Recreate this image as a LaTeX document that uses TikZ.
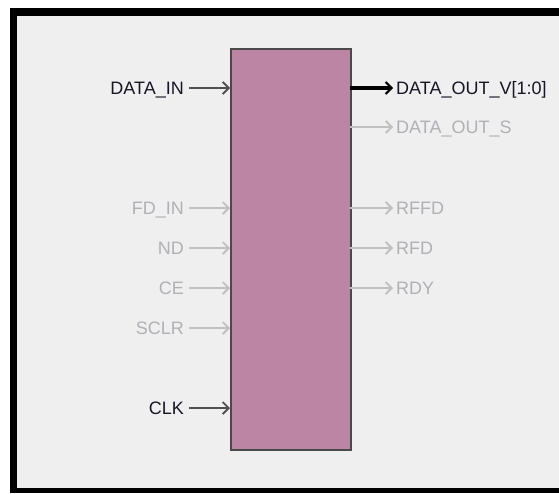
\documentclass[tikz,border=0pt]{standalone}
\usepackage{fontspec}
\setmainfont{Liberation Sans}
\usetikzlibrary{arrows.meta}
\definecolor{bgray}{HTML}{EFEFEF}
\definecolor{boxfill}{HTML}{BC85A3}
\definecolor{boxline}{HTML}{4A4A4A}
\definecolor{dimtext}{HTML}{B0B0B6}
\definecolor{dimline}{HTML}{C0C0C0}
\definecolor{darktext}{HTML}{161628}
\definecolor{darkline}{HTML}{505050}
\tikzset{
  inlbl/.style={anchor=base east, inner sep=0pt, font=\fontsize{18}{20}\selectfont},
  outlbl/.style={anchor=base west, inner sep=0pt, font=\fontsize{18}{20}\selectfont},
  dim/.style={text=dimtext},
  dark/.style={text=darktext},
  dimwire/.style={draw=dimline, line width=2.2pt, -{Straight Barb[length=6pt,width=12pt,line width=1.8pt]}},
  darkwire/.style={draw=darkline, line width=2.2pt, -{Straight Barb[length=6pt,width=12pt,line width=1.8pt]}},
  buswire/.style={draw=black, line width=3.2pt, -{Straight Barb[length=6pt,width=12pt,line width=2pt]}},
}
\begin{document}
\begin{tikzpicture}[x=1pt,y=-1pt]
\useasboundingbox (0,0) rectangle (559,493);
% frame
\fill[white] (0,0) rectangle (559,493);
\fill[black] (10,8) rectangle (559,493);
\fill[bgray] (17,16) rectangle (559,488);
% block
\node[draw=boxline, line width=2pt, fill=boxfill, minimum width=120pt, minimum height=401pt, inner sep=0pt, anchor=north west] (blk) at (230,48) {};
% pin coordinates
\coordinate (p-din) at (230,88);
\coordinate (p-fdin) at (230,208);
\coordinate (p-nd) at (230,248);
\coordinate (p-ce) at (230,288);
\coordinate (p-sclr) at (230,328);
\coordinate (p-clk) at (230,408);
\coordinate (q-dov) at (350,88);
\coordinate (q-dos) at (350,127);
\coordinate (q-rffd) at (350,208);
\coordinate (q-rfd) at (350,248);
\coordinate (q-rdy) at (350,288);
% input labels
\node[inlbl,dark] (din) at (184,94.5) {DATA\_IN};
\node[inlbl,dim] (fdin) at (184,214.5) {FD\_IN};
\node[inlbl,dim] (nd) at (184,254.5) {ND};
\node[inlbl,dim] (ce) at (184,294.5) {CE};
\node[inlbl,dim] (sclr) at (184,334.5) {SCLR};
\node[inlbl,dark] (clk) at (184,414.5) {CLK};
% output labels
\node[outlbl,dark] (dov) at (396,94.5) {DATA\_OUT\_V[1:0]};
\node[outlbl,dim] (dos) at (396,133.5) {DATA\_OUT\_S};
\node[outlbl,dim] (rffd) at (396,214.5) {RFFD};
\node[outlbl,dim] (rfd) at (396,254.5) {RFD};
\node[outlbl,dim] (rdy) at (396,294.5) {RDY};
% input wires
\draw[darkwire] (din.east |- p-din) ++(5,0) -- (p-din);
\draw[dimwire] (fdin.east |- p-fdin) ++(5,0) -- (p-fdin);
\draw[dimwire] (nd.east |- p-nd) ++(5,0) -- (p-nd);
\draw[dimwire] (ce.east |- p-ce) ++(5,0) -- (p-ce);
\draw[dimwire] (sclr.east |- p-sclr) ++(5,0) -- (p-sclr);
\draw[darkwire] (clk.east |- p-clk) ++(5,0) -- (p-clk);
% output wires
\draw[buswire] (q-dov) -- ([xshift=-3pt]dov.west |- q-dov);
\draw[dimwire] (q-dos) -- ([xshift=-3pt]dos.west |- q-dos);
\draw[dimwire] (q-rffd) -- ([xshift=-3pt]rffd.west |- q-rffd);
\draw[dimwire] (q-rfd) -- ([xshift=-3pt]rfd.west |- q-rfd);
\draw[dimwire] (q-rdy) -- ([xshift=-3pt]rdy.west |- q-rdy);
\end{tikzpicture}
\end{document}
